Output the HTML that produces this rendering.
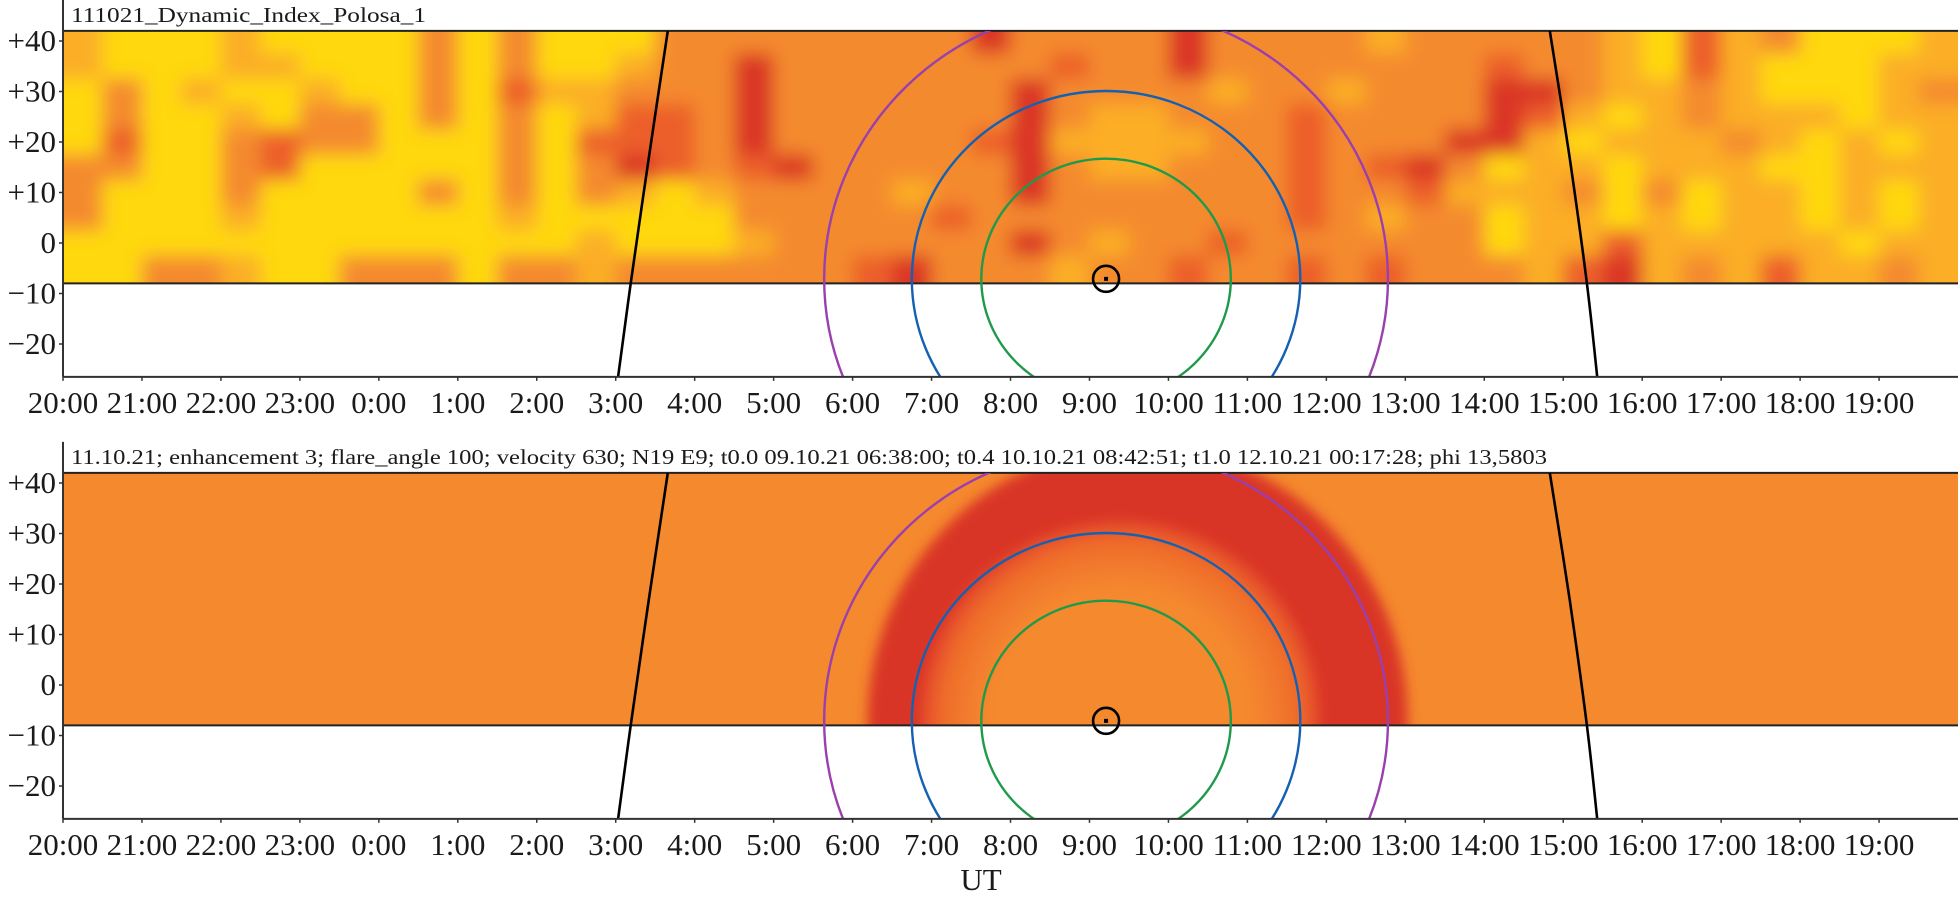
<!DOCTYPE html>
<html><head><meta charset="utf-8"><style>
html,body{margin:0;padding:0;background:#fff;overflow:hidden;width:1958px;height:903px;}
svg{display:block;overflow:hidden;}
text{font-family:"Liberation Serif",serif;fill:#1a1a1a;}
</style></head><body>
<svg id="chart" width="1958" height="903" viewBox="0 0 1958 903" xmlns="http://www.w3.org/2000/svg">
<defs>
<filter id="blur" filterUnits="userSpaceOnUse" x="0" y="-100" width="2100" height="600"><feGaussianBlur stdDeviation="9"/></filter>
<filter id="blur2" filterUnits="userSpaceOnUse" x="0" y="300" width="2100" height="600"><feGaussianBlur stdDeviation="6"/></filter>
<clipPath id="bandClip0"><rect x="63" y="31" width="1895" height="253"/></clipPath>
<clipPath id="bandClip1"><rect x="63" y="473" width="1895" height="252"/></clipPath>
<clipPath id="plotClip0"><rect x="63" y="31" width="1895" height="346"/></clipPath>
<clipPath id="plotClip1"><rect x="63" y="473" width="1895" height="346"/></clipPath>
<radialGradient id="innerGrad" cx="50%" cy="50%" r="50%">
<stop offset="0%" stop-color="#f5892e"/><stop offset="65%" stop-color="#f5892e"/><stop offset="88%" stop-color="#ef6e2c"/><stop offset="100%" stop-color="#e4482a"/>
</radialGradient>
</defs>
</svg>
<script>
// ---- data ----
const hourLabels = ["20:00","21:00","22:00","23:00","0:00","1:00","2:00","3:00","4:00","5:00","6:00","7:00","8:00","9:00","10:00","11:00","12:00","13:00","14:00","15:00","16:00","17:00","18:00","19:00"];
const latTicks = [40,30,20,10,0,-10,-20];
const latTickLabels = ["+40","+30","+20","+10","0","\u221210","\u221220"];
const bandLat = [42,-8];
const axisLat = [42,-26.5];
const gridLats = [40,35,30,25,20,15,10,5,0,-5];
const gridRows = [
"100010000202000222222224222242222122222103120001",
"100011000202001224222222232242222222322103100011",
"020100100203112224222222422221221222442112100012",
"020010220202013324222222421122232222431012111011",
"030023220002033324222223411112232224410111210101",
"220023000002024323422222421122232342011011100111",
"200020000202021012222122422222232231112020110101",
"200010000001000002222232222222232122011010110101",
"000000000000010001222222421223222222011311111011",
"002210022202212222223422212232232322213412131121"
];
const levelColors = ["#ffd80e","#fbae27","#f48a2d","#ec5f2a","#da3527"];
const termLeft = [[7.66,42],[7.42,17],[7.19,-8],[7.03,-26.5]];
const termRight = [[18.83,42],[19.08,17],[19.30,-8],[19.43,-26.5]];
const sunCenter = [13.21,-7.1];
const ringNames = ["green-circle","blue-circle","purple-circle"];
const ringRx = [1.58,2.46,3.57];
const ringRy = [23.8,37.2,54.0];
const ringColors = ["#1f9a4b","#1560b1","#9a3fae"];
const cmeOuter = [13.61,-7.1,3.42,54.5];
const cmeInner = [13.39,-7.1,2.53,39.6];
const titles = ["111021_Dynamic_Index_Polosa_1","11.10.21; enhancement 3; flare_angle 100; velocity 630; N19 E9; t0.0 09.10.21 06:38:00; t0.4 10.10.21 08:42:51; t1.0 12.10.21 00:17:28; phi 13,5803"];
const titleWidths = [355,1476];

// ---- scales ----
const X0 = 63, PXH = 78.96, PXD = 5.05;
const zeroY = [243,685];
function xOf(h){return X0 + h*PXH;}
function yOf(lat,p){return zeroY[p] - lat*PXD;}
const NS="http://www.w3.org/2000/svg";
const svg=document.getElementById('chart');
function mk(tag,attrs,parent){const e=document.createElementNS(NS,tag);for(const k in attrs)e.setAttribute(k,attrs[k]);(parent||svg).appendChild(e);return e;}
function smoothPath(pts){
  let d='M'+pts[0][0].toFixed(1)+' '+pts[0][1].toFixed(1);
  for(let i=0;i<pts.length-1;i++){
    const p0=pts[Math.max(0,i-1)],p1=pts[i],p2=pts[i+1],p3=pts[Math.min(pts.length-1,i+2)];
    const c1=[p1[0]+(p2[0]-p0[0])/6,p1[1]+(p2[1]-p0[1])/6];
    const c2=[p2[0]-(p3[0]-p1[0])/6,p2[1]-(p3[1]-p1[1])/6];
    d+=' C'+c1[0].toFixed(1)+' '+c1[1].toFixed(1)+' '+c2[0].toFixed(1)+' '+c2[1].toFixed(1)+' '+p2[0].toFixed(1)+' '+p2[1].toFixed(1);
  }
  return d;
}

for(let p=0;p<2;p++){
  const g=mk('g',{});
  
  
  const yTop=yOf(bandLat[0],p), yBot=yOf(bandLat[1],p), yAx=yOf(axisLat[1],p);
  const band=mk('g',{'clip-path':'url(#bandClip'+p+')'},g);
  
  
  if(p===0){
    mk('rect',{x:X0,y:yTop,width:1895,height:yBot-yTop,fill:levelColors[2]},band);
    const cells=mk('g',{filter:'url(#blur)'},band);
    for(let r=0;r<gridRows.length;r++){
      for(let c=0;c<48;c++){
        const lv=+gridRows[r][c];
        let x1=xOf(c*0.5), x2=xOf(c*0.5+0.5);
        let y1=yOf(gridLats[r]+2.5,0), y2=yOf(gridLats[r]-2.5,0);
        if(c===0)x1-=30; if(c===47)x2+=30;
        if(r===0)y1-=30; if(r===gridRows.length-1)y2+=30;
        const cell=mk('rect',{x:x1,y:y1,width:x2-x1+0.5,height:y2-y1+0.5,fill:levelColors[lv]},cells);
        
        
      }
    }
  } else {
    mk('rect',{x:X0,y:yTop,width:1895,height:yBot-yTop,fill:'#f5892e'},band);
    const outer=mk('ellipse',{cx:xOf(cmeOuter[0]),cy:yOf(cmeOuter[1],1),rx:cmeOuter[2]*PXH,ry:cmeOuter[3]*PXD,fill:'#d93427',filter:'url(#blur2)'},band);
    
    
    const inner=mk('ellipse',{cx:xOf(cmeInner[0]),cy:yOf(cmeInner[1],1),rx:cmeInner[2]*PXH,ry:cmeInner[3]*PXD,fill:'url(#innerGrad)',filter:'url(#blur2)'},band);
    
    
  }
  mk('line',{x1:X0,x2:1958,y1:yTop,y2:yTop,stroke:'#222','stroke-width':2},g);
  mk('line',{x1:X0,x2:1958,y1:yBot,y2:yBot,stroke:'#222','stroke-width':2},g);
  const ov=mk('g',{'clip-path':'url(#plotClip'+p+')'},g);
  for(let i=0;i<ringRx.length;i++){
    const e=mk('ellipse',{cx:xOf(sunCenter[0]),cy:yOf(sunCenter[1],p),rx:ringRx[i]*PXH,ry:ringRy[i]*PXD,fill:'none',stroke:ringColors[i],'stroke-width':2.4},ov);
    
    
  }
  [termLeft,termRight].forEach((t,k)=>{
    const pts=t.map(pt=>[xOf(pt[0]),yOf(pt[1],p)]);
    const l=mk('path',{d:smoothPath(pts),fill:'none',stroke:'#000','stroke-width':2.6},ov);
    
    
  });
  const sm=mk('circle',{cx:xOf(sunCenter[0]),cy:yOf(sunCenter[1],p),r:13,fill:'none',stroke:'#000','stroke-width':2.6},g);
  
  
  mk('rect',{x:xOf(sunCenter[0])-2,y:yOf(sunCenter[1],p)-2,width:4,height:4,fill:'#000'},g);
  mk('line',{x1:X0,x2:X0,y1:yTop-31,y2:yAx,stroke:'#333','stroke-width':2},g);
  mk('line',{x1:X0,x2:1958,y1:yAx,y2:yAx,stroke:'#333','stroke-width':2},g);
  for(let i=0;i<latTicks.length;i++){
    const y=yOf(latTicks[i],p);
    mk('line',{x1:X0-4,x2:X0,y1:y,y2:y,stroke:'#333','stroke-width':1.5},g);
    const t=mk('text',{x:56,y:y+10,'text-anchor':'end','font-size':31},g);
    t.textContent=latTickLabels[i];
    
    
  }
  for(let i=0;i<hourLabels.length;i++){
    const x=xOf(i);
    mk('line',{x1:x,x2:x,y1:yAx,y2:yAx+4,stroke:'#333','stroke-width':1.5},g);
    const t=mk('text',{x:x,y:yAx+36,'text-anchor':'middle','font-size':31},g);
    t.textContent=hourLabels[i];
    
    
  }
  const tt=mk('text',{x:71,y:yTop-9,'font-size':21,textLength:titleWidths[p],lengthAdjust:'spacingAndGlyphs'},g);
  tt.textContent=titles[p];
  
  
}
const ut=mk('text',{x:981,y:890,'text-anchor':'middle','font-size':31});
ut.textContent='UT';


</script>
</body></html>
